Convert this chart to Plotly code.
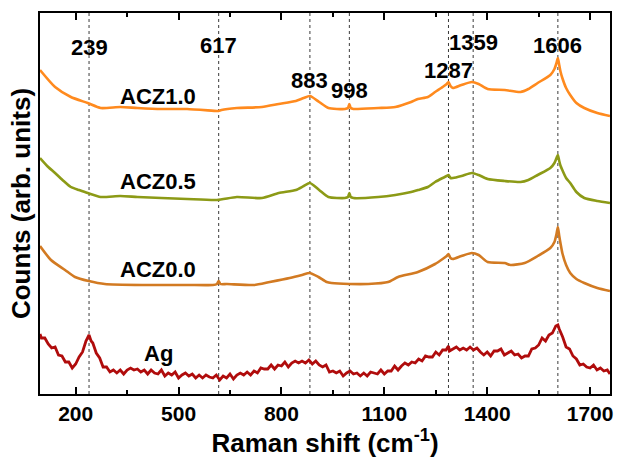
import plotly.graph_objects as go

# ---- data (Raman shift in cm^-1, intensity in arbitrary offset units) ----
acz10_x = [96, 140, 186, 235, 273, 330, 380, 450, 525, 612, 617, 625, 670, 743, 792, 842, 865, 883, 910, 937,
           985, 994, 998, 1002, 1010, 1082, 1132, 1178, 1198, 1227, 1248, 1270, 1282, 1287, 1293, 1300, 1325, 1355, 1375, 1401,
           1451, 1497, 1520, 1547, 1584, 1596, 1602, 1606, 1610, 1614, 1619, 1630, 1642, 1660, 1683, 1721, 1758]
acz10_y = [324, 307, 297, 291, 286, 287, 286, 285, 285, 283, 283, 284, 286, 287, 290, 293, 296, 298, 292, 286,
           285, 286, 290, 286, 285, 286, 287, 292, 295, 297, 302, 307, 310, 312, 308, 306, 309, 312, 310, 305,
           304, 302, 305, 311, 319, 325, 331, 336, 329, 322, 316, 306, 299, 291, 286, 281, 278]

acz05_x = [96, 120, 140, 165, 186, 210, 235, 273, 330, 380, 450, 525, 612, 670, 743, 792, 842, 865, 883, 910,
           937, 985, 994, 998, 1002, 1010, 1082, 1132, 1178, 1198, 1227, 1248, 1270, 1282, 1287, 1293, 1300, 1325, 1355, 1375,
           1401, 1451, 1497, 1520, 1547, 1584, 1596, 1602, 1606, 1610, 1614, 1619, 1630, 1642, 1660, 1683, 1721, 1758]
acz05_y = [236, 227, 221, 213, 207, 204, 201, 197, 198, 197, 196, 195, 194, 197, 196, 201, 204, 208, 211, 204,
           197, 196, 197, 201, 197, 196, 197, 199, 202, 204, 207, 212, 216, 218, 219, 216, 216, 218, 221, 219,
           215, 213, 212, 214, 219, 226, 231, 236, 239, 233, 228, 224, 216, 211, 202, 196, 193, 191]

acz00_x = [96, 128, 169, 198, 238, 285, 401, 525, 600, 612, 617, 622, 641, 720, 766, 824, 860, 882, 908, 932,
           946, 998, 1053, 1111, 1140, 1198, 1248, 1270, 1282, 1287, 1293, 1300, 1325, 1355, 1375, 1401, 1451, 1468, 1509, 1547,
           1584, 1596, 1602, 1606, 1610, 1614, 1619, 1630, 1642, 1660, 1683, 1721, 1758]
acz00_y = [148, 134, 124, 117, 113, 110, 109, 109, 109, 110, 113, 110, 110, 109, 112, 116, 119, 121, 117, 112,
           111, 110, 110, 112, 117, 122, 130, 135, 138, 140, 136, 135, 138, 141, 139, 132, 131, 129, 131, 138,
           146, 152, 160, 167, 158, 150, 141, 129, 121, 115, 111, 106, 103]

ag_x = [96, 100, 110, 120, 130, 140, 150, 160, 170, 180, 190, 200, 210, 220, 230, 239, 245, 250, 260, 270,
        280, 290, 300, 310, 320, 330, 340, 350, 360, 370, 380, 390, 400, 410, 420, 430, 440, 450, 460, 470,
        480, 490, 500, 510, 520, 530, 540, 550, 560, 570, 580, 590, 600, 610, 620, 630, 640, 650, 660, 670,
        680, 690, 700, 710, 720, 730, 740, 750, 760, 770, 780, 790, 800, 810, 820, 830, 840, 850, 860, 870,
        880, 890, 900, 910, 920, 930, 940, 950, 960, 970, 980, 990, 1000, 1010, 1020, 1030, 1040, 1050, 1060, 1070,
        1080, 1090, 1100, 1110, 1120, 1130, 1140, 1150, 1160, 1170, 1180, 1190, 1200, 1210, 1220, 1230, 1240, 1250, 1260, 1270,
        1280, 1287, 1290, 1300, 1310, 1320, 1330, 1340, 1350, 1360, 1370, 1380, 1390, 1400, 1410, 1420, 1430, 1440, 1450, 1460,
        1470, 1480, 1490, 1500, 1510, 1520, 1530, 1540, 1550, 1560, 1570, 1580, 1590, 1600, 1606, 1610, 1620, 1630, 1640, 1650,
        1660, 1670, 1680, 1690, 1700, 1710, 1720, 1730, 1740, 1750, 1758]
ag_y = [60, 56, 56, 50, 46, 47, 39, 38, 32, 32, 26, 30, 37, 42, 53, 59, 53, 51, 41, 36,
        27, 27, 22, 24, 21, 24, 20, 24, 26, 24, 25, 22, 24, 20, 24, 21, 20, 24, 18, 21,
        19, 22, 16, 19, 21, 18, 20, 16, 19, 16, 19, 17, 16, 19, 14, 18, 16, 20, 15, 19,
        21, 19, 22, 19, 23, 21, 26, 25, 25, 29, 25, 29, 28, 32, 27, 31, 33, 31, 33, 31,
        34, 30, 33, 29, 27, 29, 22, 23, 21, 23, 18, 21, 23, 20, 21, 18, 21, 18, 22, 21,
        20, 24, 20, 23, 23, 28, 24, 28, 31, 29, 32, 31, 35, 33, 38, 37, 37, 42, 39, 44,
        44, 48, 43, 45, 47, 44, 46, 44, 47, 44, 46, 42, 39, 42, 38, 43, 43, 45, 39, 41,
        43, 39, 40, 36, 38, 38, 45, 46, 49, 56, 53, 59, 61, 68, 69, 65, 57, 47, 45, 38,
        35, 29, 30, 27, 26, 29, 24, 26, 23, 24, 20]

peak_positions = [239, 617, 883, 998, 1287, 1359, 1606]
peak_labels = ["239", "617", "883", "998", "1287", "1359", "1606"]
peak_label_y = [347, 349, 314, 304, 324, 352, 349]

sample_names = ["ACZ1.0", "ACZ0.5", "ACZ0.0", "Ag"]
sample_label_x = [441, 441, 441, 441]
sample_label_y = [298, 213, 125, 41]

x_ticks = [200, 500, 800, 1100, 1400, 1700]

colors = ["#FF8A1E", "#8C9A16", "#D27A22", "#B00C0C"]

# ---- figure ----
FAM = "Liberation Sans, Arial, sans-serif"
fig = go.Figure()
series = [(acz10_x, acz10_y), (acz05_x, acz05_y), (acz00_x, acz00_y), (ag_x, ag_y)]
for i, ((xs, ys), name, col) in enumerate(zip(series, sample_names, colors)):
    if i < 3:
        ln = dict(color=col, width=2.6, shape="spline", smoothing=0.6)
    else:
        ln = dict(color=col, width=2.8)
    fig.add_trace(go.Scatter(x=xs, y=ys, mode="lines", name=name, line=ln, showlegend=False))

for p in peak_positions:
    fig.add_shape(type="line", x0=p, x1=p, y0=0, y1=1, xref="x", yref="paper",
                  line=dict(color="#3a3a3a", width=1, dash="dot"), layer="below")

font_b = dict(family=FAM, size=22, color="black", weight="bold")

for p, lab, ly in zip(peak_positions, peak_labels, peak_label_y):
    fig.add_annotation(x=p, y=ly, text=lab, showarrow=False, xref="x", yref="y", font=font_b)

for nm, lx, ly in zip(sample_names, sample_label_x, sample_label_y):
    fig.add_annotation(x=lx, y=ly, text=nm, showarrow=False, xref="x", yref="y", font=font_b)

fig.update_layout(
    width=618, height=462,
    margin=dict(l=40, r=5, t=13, b=68),
    paper_bgcolor="white", plot_bgcolor="white",
    font=dict(family=FAM, color="black"),
)
fig.update_xaxes(
    range=[96, 1758], tickvals=x_ticks, ticks="inside", ticklen=7, tickwidth=1.5, tickcolor="black",
    minor=dict(dtick=150, tick0=50, ticks="inside", ticklen=4, tickwidth=1.5, tickcolor="black"),
    showline=True, linecolor="black", linewidth=2, mirror="ticks", showgrid=False, zeroline=False,
    tickfont=dict(family=FAM, size=21, color="black", weight="bold"),
    title=dict(text="Raman shift (cm<sup>-1</sup>)", standoff=6,
               font=dict(family=FAM, size=26, color="black", weight="bold")),
)
fig.update_yaxes(
    range=[0, 381], showticklabels=False, ticks="", showline=True, linecolor="black", linewidth=2,
    mirror=True, showgrid=False, zeroline=False,
    title=dict(text="Counts (arb. units)", standoff=0,
               font=dict(family=FAM, size=26, color="black", weight="bold")),
)

fig.write_html("out.html")
